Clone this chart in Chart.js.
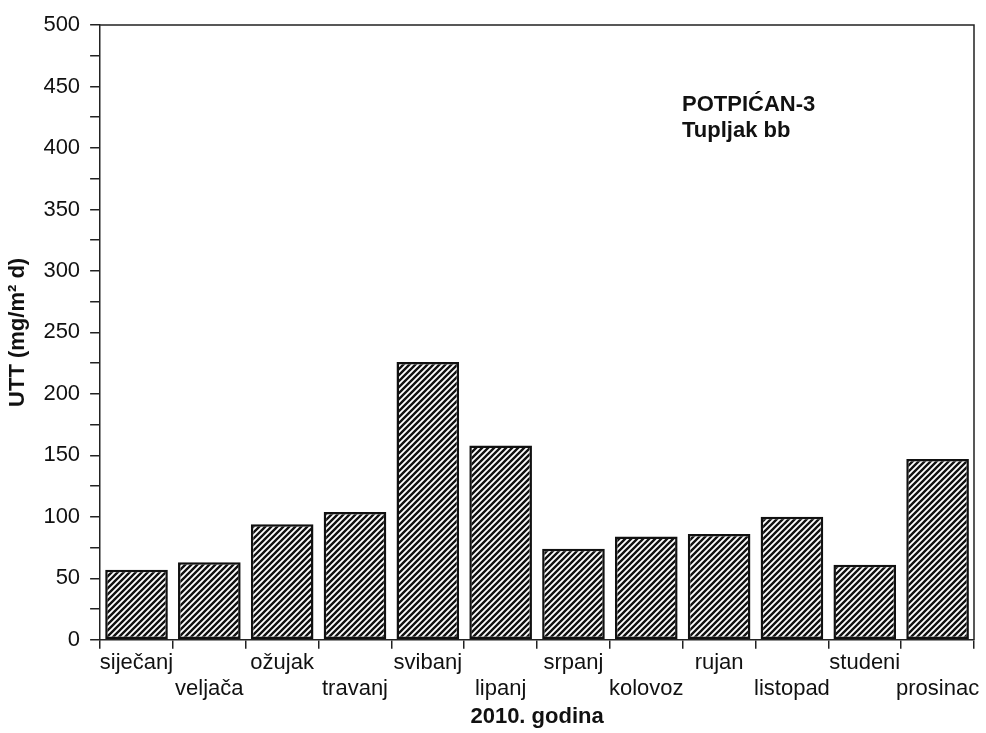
<!DOCTYPE html>
<html>
<head>
<meta charset="utf-8">
<script src="https://cdn.jsdelivr.net/npm/chart.js@4/dist/chart.umd.min.js"></script>
<style>
  html, body { margin: 0; padding: 0; background: #fff; }
  #wrap { width: 986px; height: 733px; }
</style>
</head>
<body>
<div id="wrap"><canvas id="myChart" width="986" height="733"></canvas></div>
<script>
// months of 2010
let months = ['siječanj', 'veljača', 'ožujak', 'travanj', 'svibanj', 'lipanj',
              'srpanj', 'kolovoz', 'rujan', 'listopad', 'studeni', 'prosinac'];
// UTT values, mg/m2 d
let uttValues = [57, 63, 94, 104, 226, 158, 74, 84, 86, 100, 61, 147];
let yTicks = [0, 50, 100, 150, 200, 250, 300, 350, 400, 450, 500];
let stationLines = ['POTPIĆAN-3', 'Tupljak bb'];

// diagonal hatch fill
function hatch() {
  let c = document.createElement('canvas');
  c.width = 6; c.height = 6;
  let g = c.getContext('2d');
  g.fillStyle = '#fff';
  g.fillRect(0, 0, 6, 6);
  g.strokeStyle = '#111';
  g.lineWidth = 2.4;
  g.beginPath();
  g.moveTo(0, 6); g.lineTo(6, 0);
  g.moveTo(-1, 1); g.lineTo(1, -1);
  g.moveTo(5, 7); g.lineTo(7, 5);
  g.stroke();
  return g.createPattern(c, 'repeat');
}

// top + right frame and station text
let framePlugin = {
  id: 'frame',
  afterDraw(chart) {
    let ctx = chart.ctx;
    let a = chart.chartArea;
    ctx.save();
    ctx.strokeStyle = '#222';
    ctx.lineWidth = 1.5;
    ctx.beginPath();
    ctx.moveTo(a.left, a.top);
    ctx.lineTo(a.right, a.top);
    ctx.lineTo(a.right, a.bottom);
    ctx.stroke();
    ctx.fillStyle = '#111';
    ctx.font = 'bold 22px "Liberation Sans", Arial, sans-serif';
    ctx.textAlign = 'left';
    ctx.textBaseline = 'alphabetic';
    ctx.fillText(stationLines[0], 682, 111);
    ctx.fillText(stationLines[1], 682, 137);
    ctx.restore();
  }
};

Chart.defaults.font.family = '"Liberation Sans", Arial, sans-serif';
Chart.defaults.color = '#111';

let myChart = document.getElementById('myChart').getContext('2d');
let newChart = new Chart(myChart, {
  type: 'bar',
  data: {
    labels: months,
    datasets: [{
      label: 'UTT',
      data: uttValues,
      backgroundColor: hatch(),
      borderColor: '#111',
      borderWidth: 2.5,
      borderSkipped: false,
      categoryPercentage: 1,
      barPercentage: 0.86
    }]
  },
  options: {
    responsive: false,
    animation: false,
    layout: { padding: { left: 5, right: 12, top: 25, bottom: 3 } },
    plugins: { legend: { display: false }, tooltip: { enabled: false } },
    scales: {
      x: {
        grid: { offset: true, drawOnChartArea: false, tickLength: 9, color: '#222', lineWidth: 1.5 },
        border: { color: '#222', width: 1.5 },
        ticks: {
          autoSkip: false,
          maxRotation: 0,
          padding: 1,
          font: { size: 22 },
          callback: function (v, i) {
            return i % 2 ? ['', months[i]] : months[i];
          }
        },
        title: {
          display: true,
          text: '2010. godina',
          font: { size: 22, weight: 'bold' },
          padding: { top: 0, bottom: 0 }
        }
      },
      y: {
        min: 0,
        max: 500,
        grid: { drawOnChartArea: false, tickLength: 10, color: '#222', lineWidth: 1.5 },
        border: { color: '#222', width: 1.5 },
        ticks: {
          stepSize: 25,
          padding: 10,
          font: { size: 22 },
          callback: function (v) {
            return yTicks.includes(v) ? v : '';
          }
        },
        title: {
          display: true,
          text: 'UTT (mg/m² d)',
          font: { size: 22, weight: 'bold' },
          padding: { top: 0, bottom: 2 }
        }
      }
    }
  },
  plugins: [framePlugin]
});
</script>
</body>
</html>
